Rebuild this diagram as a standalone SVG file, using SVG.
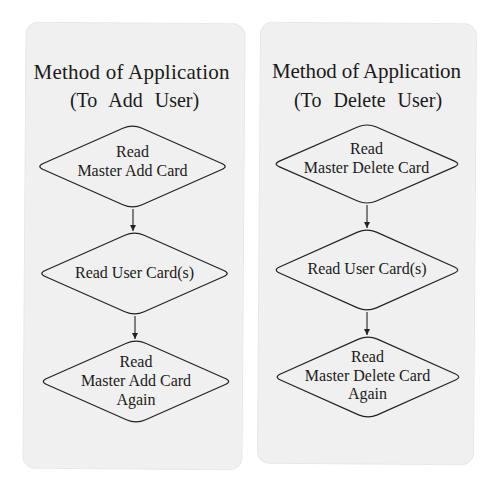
<svg xmlns="http://www.w3.org/2000/svg" xmlns:xlink="http://www.w3.org/1999/xlink" width="500" height="492" viewBox="0 0 500 492">
<style>
.card{fill:#f0f0f0;stroke:#e8e8e8;stroke-width:1}
.title{font-family:"Liberation Serif","Times New Roman",serif;font-size:21px;fill:#1a1a1a;text-anchor:middle}
.sub{font-family:"Liberation Serif","Times New Roman",serif;font-size:20px;fill:#1a1a1a;text-anchor:middle;word-spacing:7px}
.lbl{font-family:"Liberation Serif","Times New Roman",serif;font-size:16px;fill:#1a1a1a;text-anchor:middle}
.dia{fill:none;stroke:#222;stroke-width:1.2}
.conn line{stroke:#222;stroke-width:1.1}
</style>
<defs>
<path id="diamond" d="M 9.6,-38.25 L 89.3,-3 Q 96,0 89.3,3 L 9.6,38.25 Q 0,42.5 -9.6,38.25 L -89.3,3 Q -96,0 -89.3,-3 L -9.6,-38.25 Q 0,-42.5 9.6,-38.25 Z"/>
<marker id="arr" viewBox="0 0 8 8" refX="8" refY="4" markerWidth="7" markerHeight="6" markerUnits="userSpaceOnUse" orient="auto">
<path d="M0,0 L8,4 L0,8 Z" fill="#222"/>
</marker>
</defs>
<rect width="500" height="492" fill="#ffffff"/>

<g id="card-add">
<rect class="card" x="24.5" y="23" width="219" height="446" rx="12" transform="rotate(0.4 134 246)"/>
<text class="title" x="131.5" y="79" textLength="196" lengthAdjust="spacing">Method of Application</text>
<text class="sub" x="134.5" y="107">(To Add User)</text>
</g>
<g id="card-delete">
<rect class="card" x="259" y="23" width="216" height="441" rx="12" transform="rotate(0.4 367 243)"/>
<text class="title" x="366.5" y="78" textLength="189" lengthAdjust="spacing">Method of Application</text>
<text class="sub" x="368" y="107">(To Delete User)</text>
</g>

<g class="conn" id="connectors">
<line x1="133" y1="209" x2="133" y2="231" marker-end="url(#arr)"/>
<line x1="135" y1="316" x2="135" y2="339" marker-end="url(#arr)"/>
<line x1="367" y1="205" x2="367" y2="228" marker-end="url(#arr)"/>
<line x1="367" y1="312" x2="367" y2="335" marker-end="url(#arr)"/>
</g>

<g id="add-read-master">
<use xlink:href="#diamond" class="dia" transform="translate(132.5,166.5)"/>
<text class="lbl" x="132.5" y="157">Read</text>
<text class="lbl" x="132.5" y="176">Master Add Card</text>
</g>
<g id="add-read-user">
<use xlink:href="#diamond" class="dia" transform="translate(134.5,273.5)"/>
<text class="lbl" x="134.5" y="278">Read User Card(s)</text>
</g>
<g id="add-read-master-again">
<use xlink:href="#diamond" class="dia" transform="translate(136,381.5)"/>
<text class="lbl" x="136" y="367">Read</text>
<text class="lbl" x="136" y="386">Master Add Card</text>
<text class="lbl" x="136" y="405">Again</text>
</g>

<g id="del-read-master">
<use xlink:href="#diamond" class="dia" transform="translate(367,164) scale(0.98,0.965)"/>
<text class="lbl" x="366.5" y="154">Read</text>
<text class="lbl" x="366.5" y="173">Master Delete Card</text>
</g>
<g id="del-read-user">
<use xlink:href="#diamond" class="dia" transform="translate(367,270) scale(0.98,0.99)"/>
<text class="lbl" x="367" y="274">Read User Card(s)</text>
</g>
<g id="del-read-master-again">
<use xlink:href="#diamond" class="dia" transform="translate(368,377) scale(0.98,0.99)"/>
<text class="lbl" x="367.5" y="362">Read</text>
<text class="lbl" x="367.5" y="381">Master Delete Card</text>
<text class="lbl" x="367.5" y="399">Again</text>
</g>
</svg>
